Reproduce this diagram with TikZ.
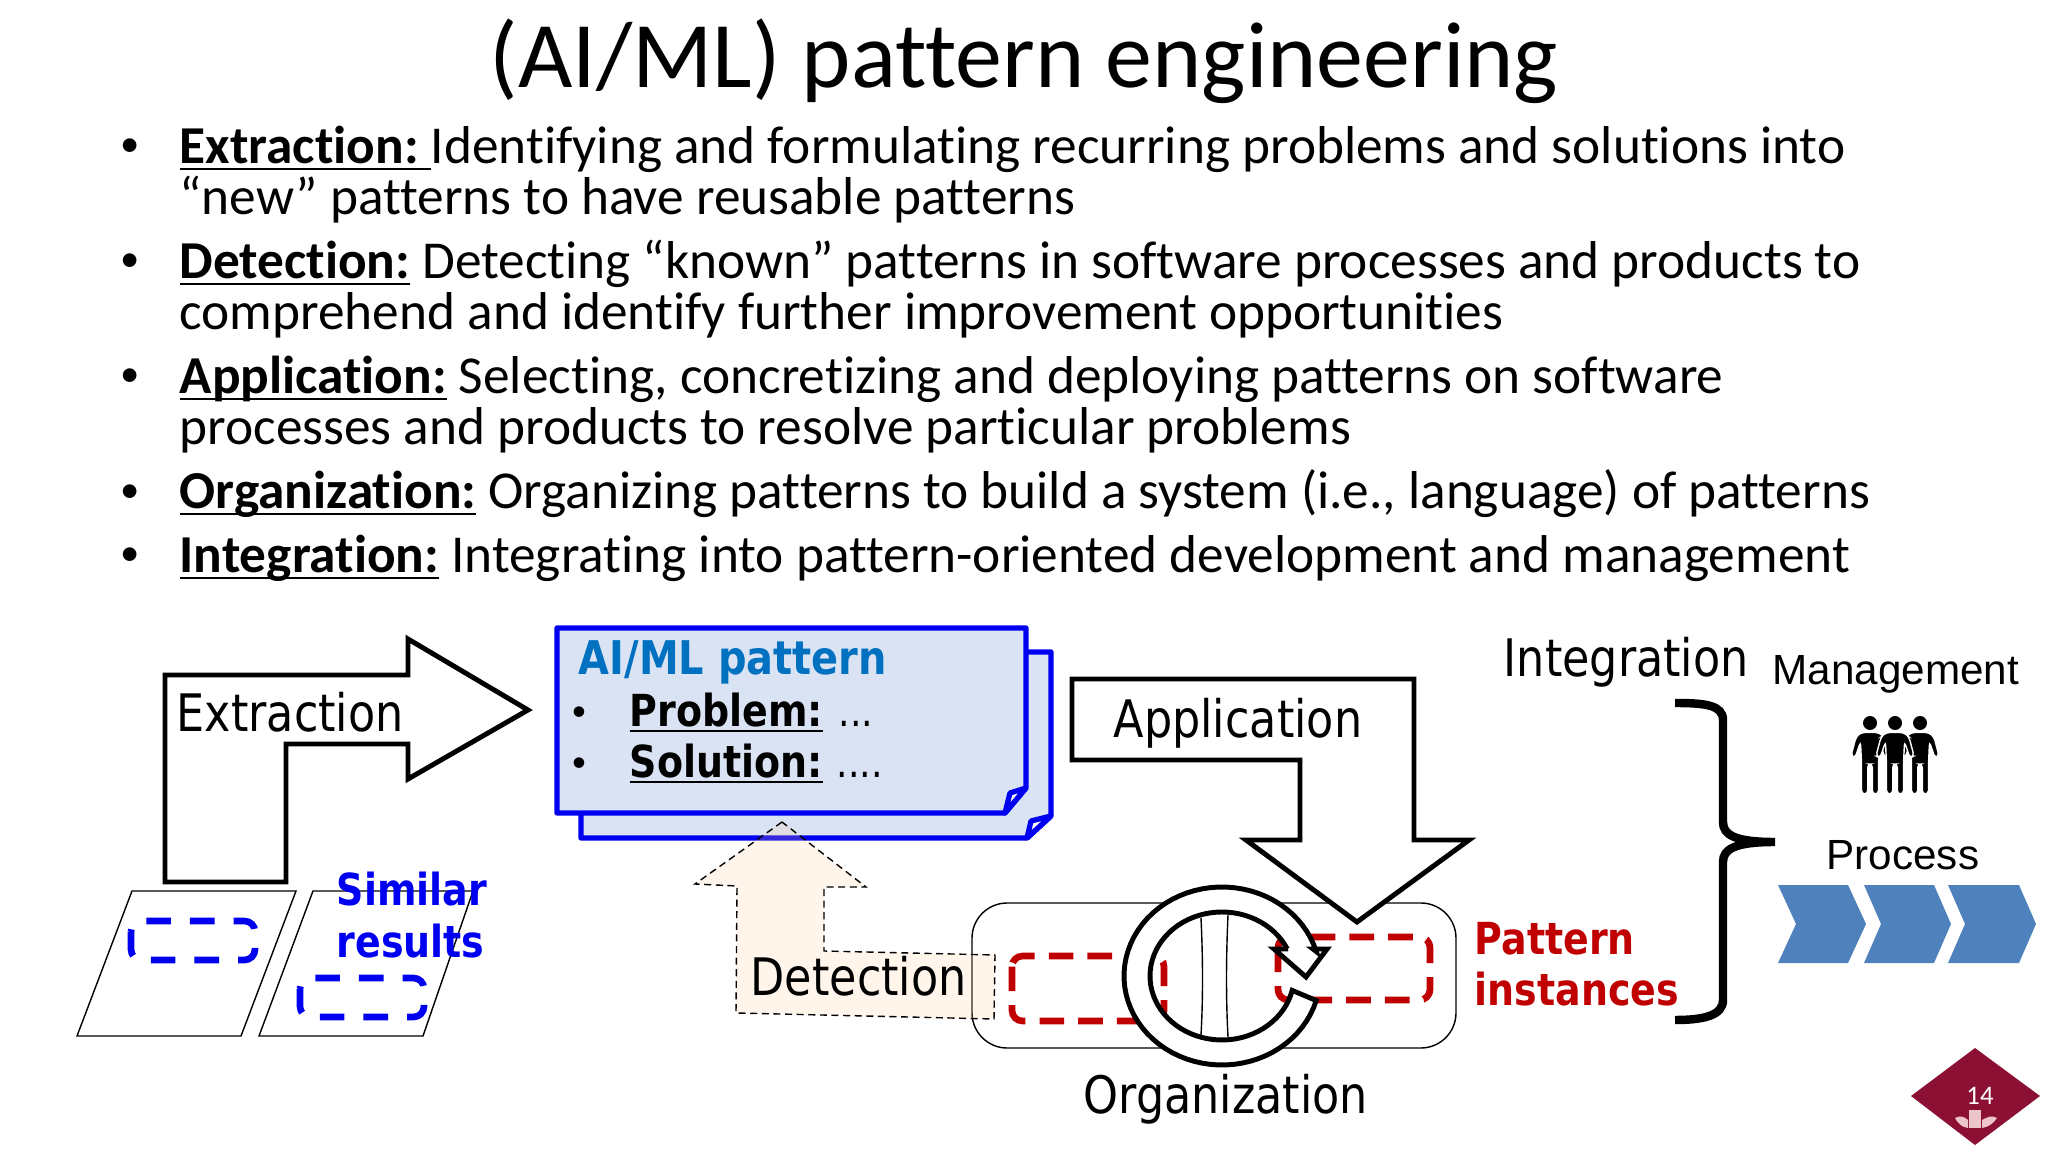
\documentclass[tikz,border=0pt]{standalone}
\usepackage{fontspec}
\setmainfont{Carlito}[Ligatures=NoCommon]
\newfontfamily\tahomafont{DejaVu Sans}[FakeStretch=0.86]
\newfontfamily\arialfont{Liberation Sans}
\newcommand{\ulbox}[1]{\setbox0=\hbox{#1}\rlap{\rule[-1.7pt]{\wd0}{0.7pt}}\box0{}}
\definecolor{docblue}{HTML}{0000F0}
\definecolor{docfill}{HTML}{DAE3F3}
\definecolor{headblue}{HTML}{0070C0}
\definecolor{instred}{HTML}{C00000}
\definecolor{chevblue}{HTML}{4F81BD}
\definecolor{badgered}{HTML}{8C1033}
\definecolor{crestpink}{HTML}{EBC4CC}
\tikzset{
    bodytext/.style={anchor=base west,inner sep=0pt,font=\fontsize{15.16pt}{16pt}\selectfont},
    dotmark/.style={anchor=base,inner sep=0pt,font=\fontsize{11pt}{12pt}\selectfont},
    smalldot/.style={anchor=base,inner sep=0pt,font=\fontsize{8.5pt}{10pt}\selectfont},
    labeltext/.style={anchor=base west,inner sep=0pt,font=\fontsize{14.7pt}{16pt}\tahomafont},
    boldtext/.style={anchor=base west,inner sep=0pt,font=\fontsize{12.55pt}{14pt}\tahomafont\bfseries},
    sidetext/.style={anchor=base west,inner sep=0pt,font=\fontsize{12pt}{14pt}\arialfont},
    dotstext/.style={anchor=base west,inner sep=0pt,font=\fontsize{12pt}{14pt}\tahomafont},
    fatarrow/.style={draw=black,fill=white,line width=1.4pt,line join=miter},
    doc/.style={draw=docblue,fill=docfill,line width=1.5pt,line join=round},
    blueslot/.style={draw=docblue,line width=1.9pt,rounded corners=3pt,dash pattern=on 7pt off 5.4pt},
    redslot/.style={draw=instred,line width=1.9pt,rounded corners=3pt,dash pattern=on 7pt off 4pt},
    sheet/.style={draw=black,line width=0.4pt},
    chevron/.style={fill=chevblue,draw=none}
}
\begin{document}
\begin{tikzpicture}[x=0.01cm,y=-0.01cm]
    \useasboundingbox (0,0) rectangle (2048,1152);
    \node[anchor=base west,inner sep=0pt,font=\fontsize{26.7pt}{30pt}\selectfont] (title) at (489,88) {(AI/ML) pattern engineering};

    \node[dotmark] (b1) at (130,157) {•};
    \node[bodytext] (ext1) at (179,164) {\ulbox{\textbf{Extraction:}\ }Identifying and formulating recurring problems and solutions into};
    \node[bodytext] (ext2) at (179,215) {“new” patterns to have reusable patterns};
    \node[dotmark] (b2) at (130,272) {•};
    \node[bodytext] (det1) at (179,279) {\ulbox{\textbf{Detection:}} Detecting “known” patterns in software processes and products to};
    \node[bodytext] (det2) at (179,330) {comprehend and identify further improvement opportunities};
    \node[dotmark] (b3) at (130,387) {•};
    \node[bodytext] (app1) at (179,394) {\ulbox{\textbf{Application:}} Selecting, concretizing and deploying patterns on software};
    \node[bodytext] (app2) at (179,445) {processes and products to resolve particular problems};
    \node[dotmark] (b4) at (130,502) {•};
    \node[bodytext] (org1) at (179,509) {\ulbox{\textbf{Organization:}} Organizing patterns to build a system (i.e., language) of patterns};
    \node[dotmark] (b5) at (130,566) {•};
    \node[bodytext] (int1) at (179,573) {\ulbox{\textbf{Integration:}} Integrating into pattern-oriented development and management};

    \draw[sheet] (132,891)--(296,891)--(241,1036)--(77,1036)--cycle;
    \draw[sheet] (313,891)--(473,891)--(423,1036)--(259,1036)--cycle;
    \draw[blueslot] (131,921) rectangle (255,960);
    \draw[blueslot] (300,978) rectangle (424,1017);
    \node[boldtext,text=docblue] (similar) at (336,905) {Similar};
    \node[boldtext,text=docblue] (results) at (336,957) {results};

    \draw[fatarrow] (165,675)--(408,675)--(408,639)--(528,710)--(408,779)--(408,744)--(286,744)--(286,882)--(165,882)--cycle;
    \node[labeltext] (extraction) at (176,731) {Extraction};

    \draw[doc] (581,652)--(1051,652)--(1051,816)--(1027,838)--(581,838)--cycle;
    \draw[doc,fill=white] (1051,816)--(1031,821)--(1027,838)--cycle;
    \draw[doc] (557,628)--(1026,628)--(1026,788)--(1005,813)--(557,813)--cycle;
    \draw[doc,fill=white] (1026,788)--(1010,793)--(1005,813)--cycle;
    \node[anchor=base west,inner sep=0pt,text=headblue,font=\fontsize{13.2pt}{15pt}\tahomafont\bfseries] (pattern) at (578,675) {AI/ML pattern};
    \node[smalldot] (b6) at (579,720) {•};
    \node[boldtext] (problem) at (629,726) {\ulbox{Problem:}};
    \node[dotstext] (dots1) at (838,726) {...};
    \node[smalldot] (b7) at (579,771) {•};
    \node[boldtext] (solution) at (629,777) {\ulbox{Solution:}};
    \node[dotstext] (dots2) at (836,777) {....};

    \draw[black,line width=0.4pt,rounded corners=10pt] (972,903) rectangle (1456,1048);
    \draw[redslot] (1012,956) rectangle (1164,1021);
    \draw[redslot] (1278,937) rectangle (1430,1000);

    \draw[black,fill=orange!40!white,fill opacity=0.2,line width=0.4pt,dash pattern=on 2pt off 1.3pt] (782,822)--(695,884)--(737,886)--(736,1013)--(994,1019)--(995,955)--(824,951)--(824,887)--(866,887)--cycle;
    \node[labeltext] (detection) at (750,995) {Detection};

    \draw[black,line width=0.4pt] (1201,918) .. controls (1203,960) and (1203,1000) .. (1201,1035);
    \draw[black,line width=0.4pt] (1228,915) .. controls (1226,960) and (1226,1000) .. (1228,1037);
    \draw[fatarrow] plot[domain=16:344,samples=70] ({1222+98*cos(\x)},{976+89*sin(\x)}) -- (1313,949) -- (1327,949) -- (1306,977) -- (1274,949) -- (1288,949) -- plot[domain=335:13,samples=70] ({1222+72*cos(\x)},{976+64*sin(\x)}) -- cycle;

    \draw[fatarrow] (1072,679)--(1414,679)--(1414,840)--(1469,840)--(1357,922)--(1246,840)--(1300,840)--(1300,760)--(1072,760)--cycle;
    \node[labeltext] (application) at (1113,737) {Application};
    \node[labeltext] (organization) at (1083,1113) {Organization};
    \node[boldtext,text=instred] (pinst) at (1474,954) {Pattern};
    \node[boldtext,text=instred] (instances) at (1474,1005) {instances};

    \draw[black,line width=2.4pt] (1675,703) .. controls (1705,703) and (1723,705) .. (1723,720) -- (1723,822) .. controls (1723,835) and (1735,842) .. (1775,842) .. controls (1735,842) and (1723,849) .. (1723,862) -- (1723,1000) .. controls (1723,1015) and (1705,1020) .. (1675,1020);
    \node[labeltext] (integration) at (1503,676) {Integration};
    \node[sidetext] (management) at (1772,684) {Management};
    \node[sidetext] (process) at (1826,869) {Process};

    \foreach \px in {1870,1920,1895}{
        \begin{scope}[shift={(\px,723)}]
            \fill[black] (0,0) circle (7);
            \draw[fill=black,draw=white,line width=0.4pt,rounded corners=1pt] (0,9.5)--(9,9.5)--(14,14)--(19,33)--(15,35)--(9.5,19)--(8.5,41)--(8.5,71)--(2.3,71)--(2.3,41)--(-2.3,41)--(-2.3,71)--(-8.5,71)--(-8.5,41)--(-9.5,19)--(-15,35)--(-19,33)--(-14,14)--(-9,9.5)--cycle;
        \end{scope}
    }

    \fill[chevron] (1778,885)--(1848,885)--(1866,924)--(1848,963)--(1778,963)--(1796,924)--cycle;
    \fill[chevron] (1864,885)--(1934,885)--(1951,924)--(1934,963)--(1864,963)--(1881,924)--cycle;
    \fill[chevron] (1948,885)--(2019,885)--(2036,924)--(2019,963)--(1948,963)--(1965,924)--cycle;

    \fill[badgered] (1975,1048)--(2040,1096)--(1975,1145)--(1911,1096)--cycle;
    \node[anchor=center,inner sep=0pt,text=white,font=\fontsize{7.6pt}{9pt}\selectfont] (pagenum) at (1980,1096) {14};
    \fill[crestpink] (1969,1110) rectangle (1981,1128);
    \fill[crestpink] (1955,1118) .. controls (1960,1115) and (1965,1117) .. (1968,1120) -- (1968,1128) .. controls (1962,1127) and (1958,1124) .. (1955,1118) -- cycle;
    \fill[crestpink] (1997,1118) .. controls (1992,1115) and (1987,1117) .. (1982,1120) -- (1982,1128) .. controls (1988,1127) and (1993,1124) .. (1997,1118) -- cycle;
\end{tikzpicture}
\end{document}
